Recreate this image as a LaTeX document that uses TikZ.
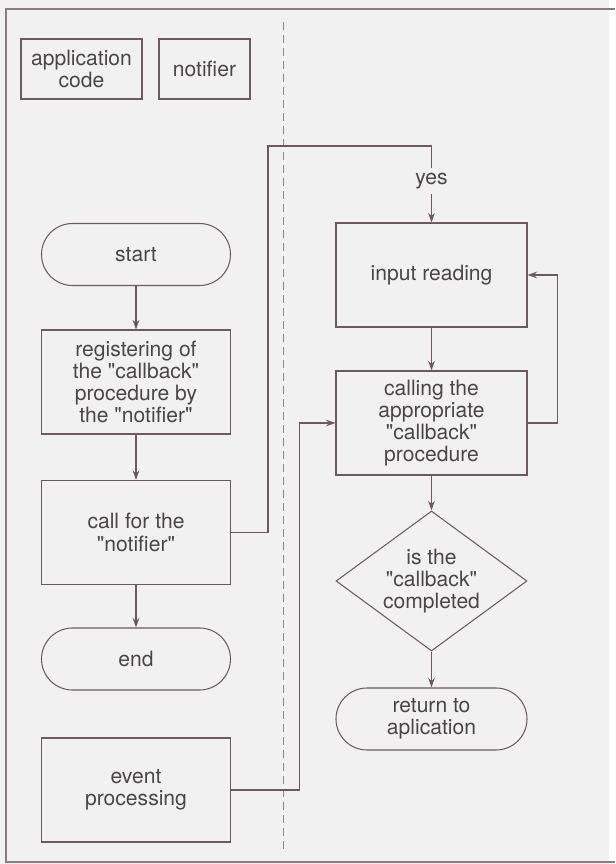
\documentclass[tikz,border=0pt]{standalone}
\usepackage{fontspec}
\setmainfont{TeX Gyre Heros}
\usepackage{tikz}
\usetikzlibrary{shapes.geometric,arrows.meta}

\definecolor{bgcol}{HTML}{F2F1F1}
\definecolor{linecol}{HTML}{6A5B62}
\definecolor{txtcol}{HTML}{4A4646}
\definecolor{dashcol}{HTML}{8C8888}

% straight quotes round a word
\newcommand{\qword}[1]{\textquotedbl#1\textquotedbl}

\tikzset{
  box/.style={draw=linecol, line width=0.6pt, text=txtcol, align=center,
    font=\fontsize{12}{12.6}\selectfont, inner sep=0pt},
  block/.style={box, minimum width=3.78cm, minimum height=2.08cm},
  terminal/.style={box, rounded corners=0.62cm, minimum width=3.78cm, minimum height=1.24cm},
  decision/.style={box, diamond, minimum width=3.82cm, minimum height=2.42cm, inner sep=-3pt},
  conn/.style={draw=linecol, line width=0.6pt, -{Stealth[length=5.5pt,width=3.8pt]}},
}

\begin{document}
\begin{tikzpicture}
      % paper and frame
      \fill [bgcol] (0,0) rectangle (12.18,17.28);
      \draw [linecol!80, line width=0.6pt] (12.3,17.10) -| (0.12,0.04) -- (12.3,0.04);

      % dividing line
      \draw [dashcol, line width=0.5pt, dash pattern=on 0.16cm off 0.1cm] (5.66,16.84) -- (5.66,0.28);

      % legend
      \node[box, minimum width=2.42cm, minimum height=1.2cm](appcode) at (1.63, 15.90){application\\code};
      \node[box, minimum width=1.82cm, minimum height=1.2cm](notif) at (4.09, 15.90){notifier};

      % application code column
      \node[terminal](start) at (2.72, 12.19){start};
      \node[block](reg) at (2.72, 9.64){registering of\\the \qword{callback}\\procedure by\\the \qword{notifier}};
      \node[block](callnot) at (2.72, 6.63){call for the\\\qword{notifier}};
      \node[terminal](stop) at (2.72, 4.10){end};
      \node[block](event) at (2.72, 1.48){event\\processing};

      % notifier column
      \node[block, minimum width=3.82cm](input) at (8.63, 11.78){input reading};
      \node[block, minimum width=3.82cm](calling) at (8.63, 8.82){calling the\\appropriate\\\qword{callback}\\procedure};
      \node[decision](done) at (8.63, 5.66){is the\\\qword{callback}\\completed};
      \node[terminal, minimum width=3.82cm](back) at (8.63, 2.90){return to\\aplication};

      % straight arrows
      \draw [conn] (start) -- (reg);
      \draw [conn] (reg) -- (callnot);
      \draw [conn] (callnot) -- (stop);
      \draw [conn] (input) -- (calling);
      \draw [conn] (calling) -- (done);
      \draw [conn] (done) -- (back);

      % call for the notifier -> input reading
      \coordinate (turn) at (5.36, 14.36);
      \draw [conn] (callnot.east) -| (turn) -| node[pos=0.73, fill=bgcol, inner sep=3pt, text=txtcol,
        font=\fontsize{12}{12.6}\selectfont]{yes} (input.north);

      % loop back to input reading
      \draw [conn] (calling.east) -- ++(0.6, 0) |- (input.east);

      % event processing -> calling
      \draw [conn] (event.east) -- ++(1.37, 0) |- (calling.west);
\end{tikzpicture}
\end{document}
